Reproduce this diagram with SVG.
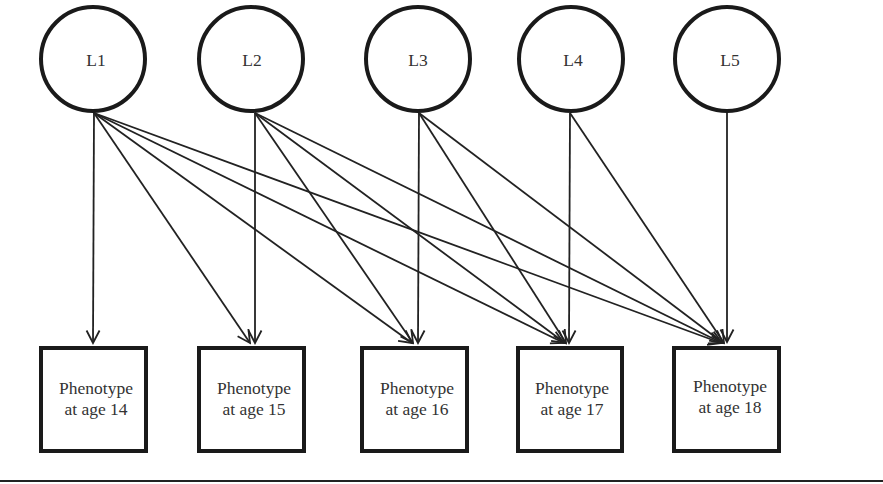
<svg xmlns="http://www.w3.org/2000/svg" width="883" height="484" viewBox="0 0 883 484">
<defs>
<style>
.node circle, .node rect { fill: #fff; stroke: #1a1a1a; stroke-width: 4; }
.lbl { font-family: "Liberation Serif", "Times New Roman", serif; font-size: 17.5px; fill: #333; text-anchor: middle; }
.edges line { stroke: #222; stroke-width: 1.8; fill: none; marker-end: url(#arr); }
</style>
<marker id="arr" markerUnits="userSpaceOnUse" markerWidth="16" markerHeight="16" viewBox="0 0 16 16" refX="14" refY="8" orient="auto">
<path d="M1.5,1.5 L14,8 L1.5,14.5" fill="none" stroke="#222" stroke-width="1.8"/>
</marker>
</defs>
<rect width="883" height="484" fill="#fff"/>
<g id="edges" class="edges">
<line x1="94" y1="113" x2="93" y2="343"/>
<line x1="94" y1="113" x2="250" y2="343"/>
<line x1="94" y1="113" x2="412" y2="343"/>
<line x1="94" y1="113" x2="564" y2="343"/>
<line x1="94" y1="113" x2="721" y2="343"/>
<line x1="255" y1="113" x2="255" y2="343"/>
<line x1="255" y1="113" x2="413" y2="343"/>
<line x1="255" y1="113" x2="565" y2="343"/>
<line x1="255" y1="113" x2="722" y2="343"/>
<line x1="419" y1="113" x2="418" y2="343"/>
<line x1="419" y1="113" x2="566" y2="343"/>
<line x1="419" y1="113" x2="723" y2="343"/>
<line x1="570" y1="113" x2="569" y2="343"/>
<line x1="570" y1="113" x2="724" y2="343"/>
<line x1="727" y1="113" x2="727" y2="342"/>
</g>
<g id="L1" class="node"><circle cx="93" cy="59" r="52"/><text class="lbl" x="96" y="66">L1</text></g>
<g id="L2" class="node"><circle cx="251" cy="59" r="52"/><text class="lbl" x="252" y="66">L2</text></g>
<g id="L3" class="node"><circle cx="418" cy="59" r="52"/><text class="lbl" x="418" y="66">L3</text></g>
<g id="L4" class="node"><circle cx="571" cy="59" r="52"/><text class="lbl" x="573" y="66">L4</text></g>
<g id="L5" class="node"><circle cx="727" cy="59" r="52"/><text class="lbl" x="730" y="66">L5</text></g>
<g id="P14" class="node"><rect x="41" y="348" width="105" height="103"/><text class="lbl" x="96" y="394">Phenotype</text><text class="lbl" x="96" y="415">at age 14</text></g>
<g id="P15" class="node"><rect x="199" y="348" width="105" height="103"/><text class="lbl" x="254" y="394">Phenotype</text><text class="lbl" x="254" y="415">at age 15</text></g>
<g id="P16" class="node"><rect x="362" y="348" width="105" height="103"/><text class="lbl" x="417" y="394">Phenotype</text><text class="lbl" x="417" y="415">at age 16</text></g>
<g id="P17" class="node"><rect x="518" y="348" width="104" height="103"/><text class="lbl" x="572" y="394">Phenotype</text><text class="lbl" x="572" y="415">at age 17</text></g>
<g id="P18" class="node"><rect x="674" y="348" width="105" height="103"/><text class="lbl" x="730" y="392">Phenotype</text><text class="lbl" x="730" y="413">at age 18</text></g>
<line x1="0" y1="481" x2="883" y2="481" stroke="#222" stroke-width="2"/>
</svg>
